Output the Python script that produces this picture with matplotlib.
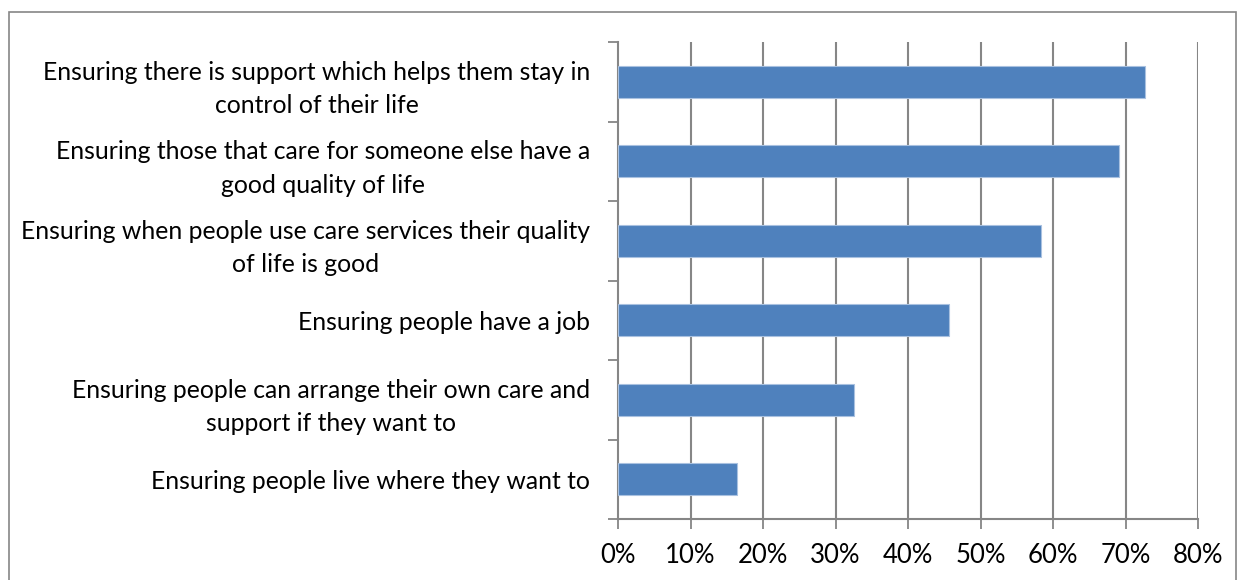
import matplotlib
matplotlib.use('Agg')
import matplotlib.pyplot as plt
from matplotlib.patches import Rectangle

labels = ['Ensuring there is support which helps them stay in\ncontrol of their life',
          'Ensuring those that care for someone else have a\ngood quality of life',
          'Ensuring when people use care services their quality\nof life is good',
          'Ensuring people have a job',
          'Ensuring people can arrange their own care and\nsupport if they want to',
          'Ensuring people live where they want to']
values = [72.7, 69.1, 58.4, 45.6, 32.6, 16.4]
xticks = [0, 10, 20, 30, 40, 50, 60, 70, 80]

plt.rcParams['font.family'] = ['Lato', 'DejaVu Sans']
grey = '#868686'

fig = plt.figure(figsize=(12.42, 5.80), dpi=100)
W, H = 1242, 580
ax = fig.add_axes([618 / W, 1 - 519 / H, (1198 - 618) / W, (519 - 42) / H])

pos = list(range(len(labels)))
ax.barh(pos, values, height=0.4, color='#4F81BD', edgecolor='#a9c1e0', linewidth=0.8, zorder=3)

ax.set_ylim(len(labels) - 0.5, -0.5)
ax.set_xlim(0, 80)

# category boundaries as ticks, labels at the centres
ax.set_yticks([i - 0.5 for i in range(len(labels) + 1)])
ax.set_yticklabels([])
ax.set_yticks(pos, minor=True)
ax.set_yticklabels(labels, minor=True, fontsize=17.8, multialignment='center',
                   linespacing=1.55)
ax.tick_params(axis='y', which='major', length=7, width=1.3, color=grey, direction='out')
ax.tick_params(axis='y', which='minor', length=0, pad=20)

ax.set_xticks(xticks)
ax.set_xticklabels([f'{t}%' for t in xticks], fontsize=18.5)
ax.tick_params(axis='x', length=7, width=1.3, color=grey, direction='out', pad=10)

for t in xticks[1:]:
    ax.axvline(t, color=grey, lw=1.5, zorder=1)

for s in ['top', 'right']:
    ax.spines[s].set_visible(False)
for s in ['left', 'bottom']:
    ax.spines[s].set_color(grey)
    ax.spines[s].set_linewidth(1.5)

# outer chart border
fig.patches.append(Rectangle((9 / W, -0.05), (1236 - 9) / W, 1.05 - 12 / H,
                             transform=fig.transFigure, fill=False,
                             edgecolor=grey, linewidth=1.2))

fig.savefig('out.png', dpi=100)
